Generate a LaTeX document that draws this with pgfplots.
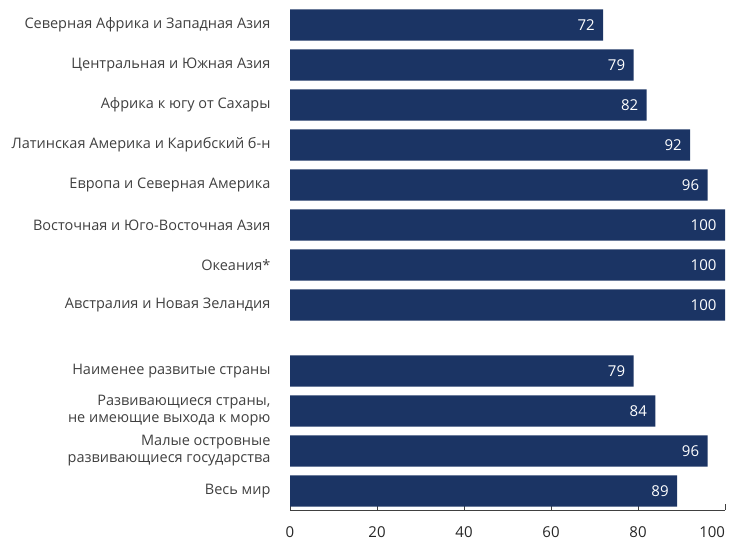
\documentclass[border=0pt]{standalone}
\usepackage{pgfplots}
\pgfplotsset{compat=1.18}
\usepackage{fontspec}
\setmainfont{Open Sans}
\definecolor{barblue}{HTML}{1B3464}
\definecolor{labelgray}{HTML}{404040}
\begin{document}
\begin{tikzpicture}
\useasboundingbox (0,0) rectangle (730pt,542pt);
\begin{axis}[
    at={(290pt,32pt)}, anchor=south west,
    scale only axis,
    width=435pt, height=500pt,
    xbar, bar width=0.78,
    y dir=reverse,
    xmin=0, xmax=100,
    ymin=-0.375, ymax=12.125,
    axis x line*=bottom,
    axis y line*=left,
    y axis line style={draw=none},
    x axis line style={-, draw=black!75},
    /pgf/number format/assume math mode=true,
    xtick={0,20,...,100},
    xticklabels={0,20,40,60,80,\makebox[0pt][r]{100}},
    tick align=inside,
    major tick length=6pt,
    xtick style={draw=black!75},
    xticklabel style={font=\fontsize{15}{17}\selectfont, text=black!85, yshift=-13pt},
    ytick={0,1,2,3,4,5,6,7,8.65,9.65,10.65,11.65},
    yticklabels={
        Северная Африка и Западная Азия,
        Центральная и Южная Азия,
        Африка к югу от Сахары,
        Латинская Америка и Карибский б-н,
        Европа и Северная Америка,
        Восточная и Юго-Восточная Азия,
        Океания*,
        Австралия и Новая Зеландия,
        Наименее развитые страны,
        {Развивающиеся страны,\\не имеющие выхода к морю},
        {Малые островные\\развивающиеся государства},
        Весь мир},
    yticklabel style={align=right, font=\fontsize{14.5}{17}\selectfont, text=labelgray, xshift=-16pt},
    ytick style={draw=none},
    nodes near coords,
    nodes near coords style={font=\fontsize{15}{17}\selectfont, text=white, anchor=east, xshift=-5pt},
    clip=false,
]
\addplot[fill=barblue, draw=none] coordinates {
    (72,0) (79,1) (82,2) (92,3) (96,4) (100,5) (100,6) (100,7)
    (79,8.65) (84,9.65) (96,10.65) (89,11.65)
};
\end{axis}
\end{tikzpicture}
\end{document}
